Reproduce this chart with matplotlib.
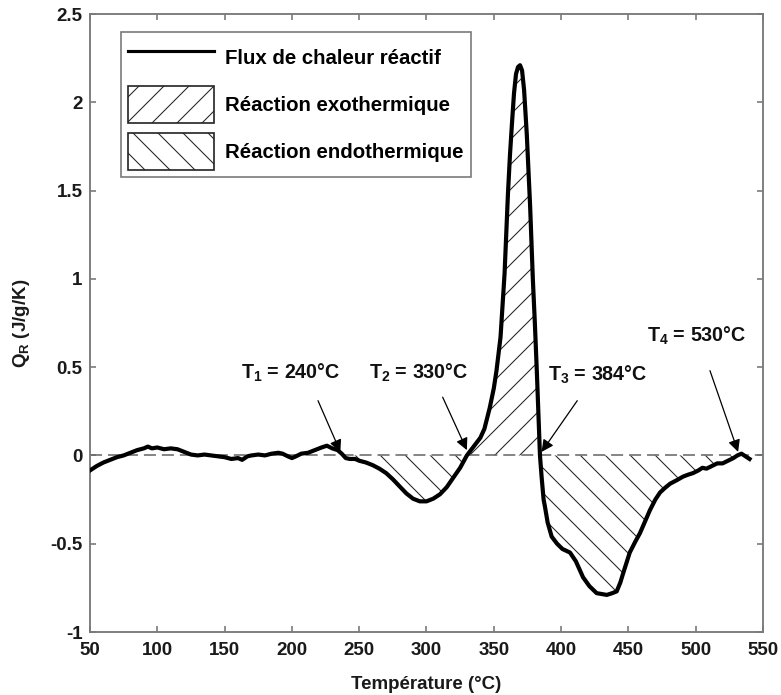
import numpy as np
import matplotlib
matplotlib.use("Agg")
import matplotlib.pyplot as plt
from matplotlib.patches import Patch
from matplotlib.lines import Line2D

# ---- data ----
temperature = [50, 55, 60, 65, 70, 75, 80, 85, 90, 93, 96, 100, 105, 110, 115, 120, 125, 130,
               135, 140, 145, 150, 155, 160, 163, 167, 170, 175, 180, 185, 190, 193, 197, 200,
               203, 207, 212, 217, 222, 226, 230, 234, 237, 240, 243, 247, 250, 255, 260, 265,
               270, 275, 280, 285, 290, 295, 300, 305, 310, 315, 320, 325, 330, 335, 340, 343,
               347, 350, 352, 355, 358, 360.5, 362, 363.5, 365, 366.5, 368, 369.5, 371, 372.5,
               374.5, 377, 379, 380.5, 382, 383.3, 384.3, 385.5, 387, 388, 390, 393, 397, 401,
               406.6, 411, 416.3, 421, 426.4, 430, 434, 438, 441.3, 444, 446, 448.5, 451, 455,
               458.6, 462, 466, 470, 473.5, 477, 481, 486, 490.6, 494, 498, 502, 505, 508, 512,
               516, 520, 524, 528, 531, 534, 537, 540]
heat_flow = [-0.085, -0.06, -0.04, -0.025, -0.01, 0.0, 0.015, 0.03, 0.04, 0.05, 0.04, 0.045, 0.035,
             0.04, 0.035, 0.02, 0.005, 0.0, 0.005, 0.0, -0.005, -0.01, -0.02, -0.015, -0.025,
             -0.005, 0.0, 0.005, 0.0, 0.01, 0.015, 0.01, -0.005, -0.015, -0.005, 0.01, 0.015,
             0.03, 0.045, 0.055, 0.04, 0.03, 0.01, -0.015, -0.02, -0.02, -0.03, -0.04, -0.055,
             -0.075, -0.1, -0.135, -0.175, -0.215, -0.245, -0.26, -0.26, -0.245, -0.22, -0.18,
             -0.125, -0.07, 0.0, 0.05, 0.1, 0.15, 0.27, 0.38, 0.48, 0.67, 1.03, 1.48, 1.7, 1.88,
             2.05, 2.16, 2.2, 2.21, 2.18, 2.07, 1.82, 1.41, 1.0, 0.75, 0.47, 0.2, 0.0, -0.12,
             -0.25, -0.29, -0.38, -0.46, -0.5, -0.53, -0.55, -0.6, -0.69, -0.74, -0.78, -0.785,
             -0.79, -0.78, -0.77, -0.72, -0.67, -0.61, -0.55, -0.49, -0.44, -0.38, -0.31, -0.25,
             -0.21, -0.185, -0.16, -0.14, -0.12, -0.11, -0.1, -0.085, -0.07, -0.075, -0.06,
             -0.045, -0.045, -0.03, -0.015, 0.0, 0.01, -0.005, -0.02]

x_ticks = [50, 100, 150, 200, 250, 300, 350, 400, 450, 500, 550]
y_ticks = [-1, -0.5, 0, 0.5, 1, 1.5, 2, 2.5]
y_tick_labels = ["-1", "-0.5", "0", "0.5", "1", "1.5", "2", "2.5"]

T_marks = [240, 330, 384, 530]
T_names = [r"$T_1$ = 240°C", r"$T_2$ = 330°C", r"$T_3$ = 384°C", r"$T_4$ = 530°C"]
arrow_tips = [(236, 0.02), (330, 0.03), (385.5, 0.02), (531.5, 0.02)]
text_pos = [(199, 0.47), (294, 0.47), (427, 0.455), (501, 0.68)]
arrow_tails = [(219.4, 0.31), (312, 0.33), (412, 0.31), (510.6, 0.48)]

legend_labels = ["Flux de chaleur réactif", "Réaction exothermique", "Réaction endothermique"]

# ---- style ----
DPI = 150
plt.rcParams["font.family"] = ["Liberation Sans", "DejaVu Sans"]
plt.rcParams["font.weight"] = "bold"
plt.rcParams["mathtext.fontset"] = "custom"
plt.rcParams["mathtext.rm"] = "Liberation Sans:bold"
plt.rcParams["mathtext.it"] = "Liberation Sans:bold"
plt.rcParams["mathtext.bf"] = "Liberation Sans:bold"
plt.rcParams["mathtext.default"] = "bf"
plt.rcParams["axes.unicode_minus"] = False
plt.rcParams["hatch.linewidth"] = 0.5

fig = plt.figure(figsize=(782 / DPI, 695 / DPI), dpi=DPI)
ax = fig.add_axes([90 / 782, 63 / 695, 673 / 782, 618 / 695])

T = np.array(temperature)
Q = np.array(heat_flow)

exo = (T >= T_marks[1]) & (T <= T_marks[2])
endo = ((T >= T_marks[0]) & (T <= T_marks[1])) | ((T >= T_marks[2]) & (T <= T_marks[3]))

ax.fill_between(T, Q, 0, where=exo & (Q >= 0), interpolate=True, facecolor="none",
                edgecolor="#222222", linewidth=0, hatch="//")
ax.fill_between(T, Q, 0, where=endo & (Q <= 0), interpolate=True, facecolor="none",
                edgecolor="#222222", linewidth=0, hatch="\\\\")

ax.axhline(0, color="#666666", linestyle=(0, (7.7, 3.8)), linewidth=0.75, zorder=2)
ax.plot(T, Q, color="black", linewidth=2.0, zorder=3, solid_joinstyle="round")

for name, tip, tail, tpos in zip(T_names, arrow_tips, arrow_tails, text_pos):
    ax.annotate("", xy=tip, xytext=tail,
                arrowprops=dict(arrowstyle="-|>", color="black", lw=0.6,
                                mutation_scale=12, shrinkA=0, shrinkB=0), zorder=4)
    ax.text(tpos[0], tpos[1], name, ha="center", va="center", fontsize=9.5,
            fontweight="bold", color="#111111")

ax.set_xlim(50, 550)
ax.set_ylim(-1, 2.5)
ax.set_xticks(x_ticks)
ax.set_yticks(y_ticks)
ax.set_yticklabels(y_tick_labels)
ax.tick_params(direction="in", top=True, right=True, length=3, width=0.8,
               color="#7a7a7a", labelsize=9, labelcolor="#1a1a1a")
ax.tick_params(axis="x", pad=5)
ax.tick_params(axis="y", pad=3.5)
for s in ax.spines.values():
    s.set_color("#7a7a7a")
    s.set_linewidth(0.9)

ax.set_xlabel("Température (°C)", fontsize=9, fontweight="bold", color="#1a1a1a", labelpad=8)
ax.set_ylabel(r"$Q_R$ (J/g/K)", fontsize=9, fontweight="bold", color="#1a1a1a", labelpad=9)

handles = [Line2D([], [], color="black", linewidth=1.5),
           Patch(facecolor="white", edgecolor="#222222", hatch="//", linewidth=0.8),
           Patch(facecolor="white", edgecolor="#222222", hatch="\\\\", linewidth=0.8)]
leg = ax.legend(handles, legend_labels, loc="upper left",
                bbox_to_anchor=(31 / 673, 1 - 18 / 618), borderaxespad=0,
                fontsize=9.8, handlelength=4.2, handleheight=2.4, labelspacing=0.5,
                borderpad=0.35, handletextpad=0.55, fancybox=False, framealpha=1,
                edgecolor="#7a7a7a")
leg.get_frame().set_linewidth(0.8)
for t in leg.get_texts():
    t.set_fontweight("bold")

fig.savefig("out.png", dpi=DPI)
